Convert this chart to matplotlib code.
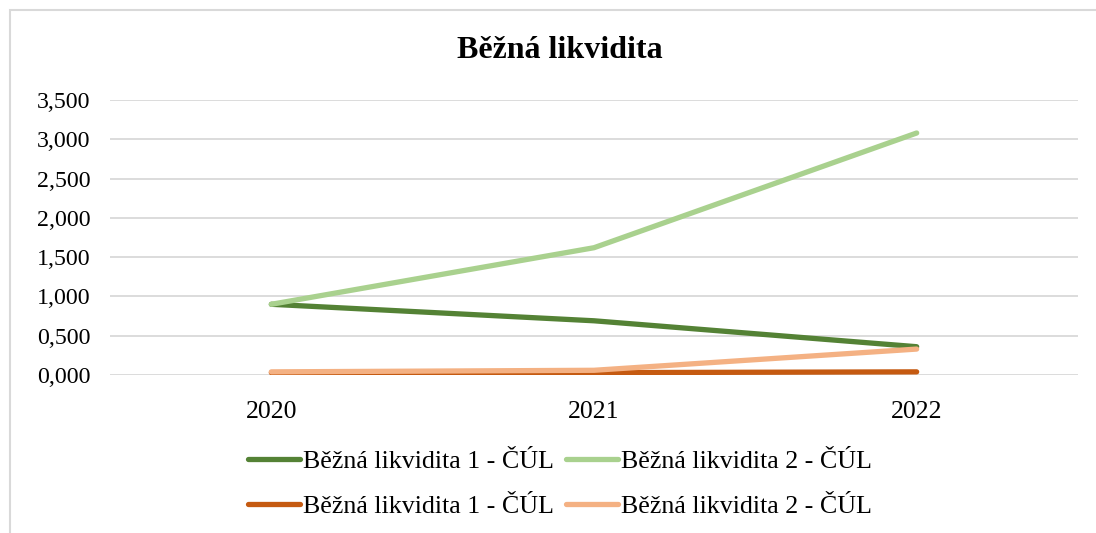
import matplotlib.pyplot as plt
from matplotlib.patches import Rectangle
from matplotlib.ticker import FuncFormatter

years = ["2020", "2021", "2022"]
bl1_a = [0.90, 0.69, 0.36]
bl2_a = [0.90, 1.62, 3.08]
bl1_b = [0.03, 0.03, 0.04]
bl2_b = [0.04, 0.06, 0.33]
label1 = "Běžná likvidita 1 - ČÚL"
label2 = "Běžná likvidita 2 - ČÚL"

plt.rcParams["font.family"] = ["Liberation Serif", "DejaVu Serif"]

fig = plt.figure(figsize=(10.96, 5.33), dpi=100)
ax = fig.add_axes([110 / 1096, 1 - 375 / 533, 968 / 1096, 275 / 533])

x = range(len(years))
lw = 3.8
h1, = ax.plot(x, bl1_a, color="#548235", lw=lw, solid_capstyle="round", label=label1, zorder=3)
h2, = ax.plot(x, bl2_a, color="#A9D18E", lw=lw, solid_capstyle="round", label=label2, zorder=3)
h3, = ax.plot(x, bl1_b, color="#C55A11", lw=lw, solid_capstyle="round", label=label1, zorder=3)
h4, = ax.plot(x, bl2_b, color="#F4B183", lw=lw, solid_capstyle="round", label=label2, zorder=4)

ax.set_xlim(-0.5, 2.5)
ax.set_ylim(0, 3.5)
ax.set_yticks([i * 0.5 for i in range(8)])
ax.yaxis.set_major_formatter(FuncFormatter(lambda v, p: f"{v:.3f}".replace(".", ",")))
ax.set_xticks(list(x))
ax.set_xticklabels(years)
ax.tick_params(axis="both", length=0)
ax.tick_params(axis="x", pad=19, labelsize=18.5)
ax.tick_params(axis="y", pad=14, labelsize=17.2)
ax.grid(axis="y", color="#D9D9D9", lw=1.3)
ax.set_axisbelow(True)
for s in ax.spines.values():
    s.set_visible(False)

fig.text(560 / 1096, 1 - 50 / 533, "Běžná likvidita", ha="center", va="center",
         fontsize=23, fontweight="bold")

leg = fig.legend([h1, h3, h2, h4], [label1, label1, label2, label2], ncol=2,
                 loc="center", bbox_to_anchor=(560 / 1096, 1 - 484 / 533),
                 frameon=False, fontsize=18.7, handlelength=2.0, handletextpad=0.1,
                 columnspacing=0.5, labelspacing=0.85)

# light border of the chart area
fig.patches.append(Rectangle((10 / 1096, -0.1), 1.2, 1 - 10 / 533 + 0.1,
                             transform=fig.transFigure, fill=False,
                             edgecolor="#D9D9D9", lw=1.5))

fig.savefig("out.png", dpi=100)
